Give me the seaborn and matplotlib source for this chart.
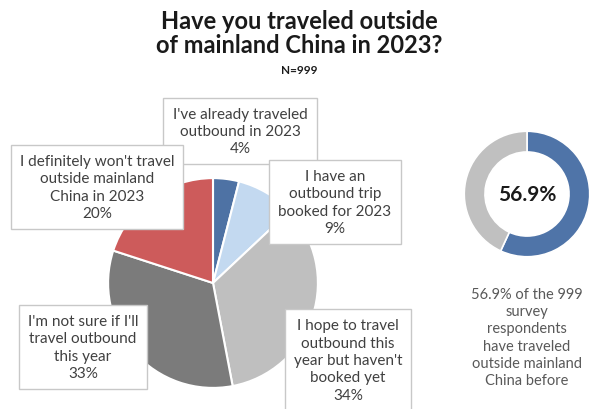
import matplotlib
matplotlib.use("Agg")
import matplotlib.pyplot as plt
import seaborn as sns

# -------------------------
# Data
# -------------------------
answers = [
    "I've already traveled\noutbound in 2023",
    "I have an\noutbound trip\nbooked for 2023",
    "I hope to travel\noutbound this\nyear but haven't\nbooked yet",
    "I'm not sure if I'll\ntravel outbound\nthis year",
    "I definitely won't travel\noutside mainland\nChina in 2023",
]
shares = [4, 9, 34, 33, 20]
slice_colors = ["#4E72A4", "#C3D9F0", "#BFBFBF", "#7B7B7B", "#CD5B5B"]

traveled_before = 56.9
donut_values = [traveled_before, 100 - traveled_before]
donut_colors = ["#4F74A8", "#C0C0C0"]
respondents = 999

# label box centres (pixels from top-left)
label_px = [(240, 132), (335, 203), (348, 361), (83, 348), (97, 188)]

sns.set_theme(style="white")
plt.rcParams["font.family"] = ["Lato", "DejaVu Sans"]

W, H = 599, 410
fig = plt.figure(figsize=(W / 100, H / 100), dpi=100)

# -------------------------
# Title
# -------------------------
fig.text(0.5, 0.975, "Have you traveled outside\nof mainland China in 2023?",
         ha="center", va="top", fontsize=17, fontweight="bold",
         color="#1A1A1A", linespacing=1.05)
fig.text(0.5, 1 - 70 / H, f"N={respondents}", ha="center", va="center",
         fontsize=8.5, fontweight="bold", color="#1A1A1A")

# -------------------------
# Main pie
# -------------------------
cx, cy, r = 213, 284, 107
ax = fig.add_axes([(cx - r) / W, (H - cy - r) / H, 2 * r / W, 2 * r / H])
ax.pie(shares, colors=slice_colors, startangle=90, counterclock=False,
       wedgeprops=dict(edgecolor="white", linewidth=1.5))
ax.set_xlim(-1.02, 1.02)
ax.set_ylim(-1.02, 1.02)
ax.set_aspect("equal")
ax.axis("off")

for txt, val, (x, y) in zip(answers, shares, label_px):
    fig.text(x / W, 1 - y / H, f"{txt}\n{val}%", ha="center", va="center",
             fontsize=11, color="#404040", linespacing=1.3,
             bbox=dict(boxstyle="square,pad=0.6", facecolor="white",
                       edgecolor="#C8C8C8", linewidth=1))

# -------------------------
# Donut
# -------------------------
dx, dy, dr = 527, 195, 64
ax2 = fig.add_axes([(dx - dr) / W, (H - dy - dr) / H, 2 * dr / W, 2 * dr / H])
ax2.pie(donut_values, colors=donut_colors, startangle=90, counterclock=False,
        wedgeprops=dict(width=0.33, edgecolor="white", linewidth=1.2))
ax2.set_xlim(-1.02, 1.02)
ax2.set_ylim(-1.02, 1.02)
ax2.set_aspect("equal")
ax2.axis("off")
ax2.text(0, 0, f"{traveled_before}%", ha="center", va="center",
         fontsize=15, fontweight="bold", color="#1A1A1A")

fig.text(dx / W, 1 - 338 / H,
         f"{traveled_before}% of the {respondents}\nsurvey\nrespondents\nhave traveled\noutside mainland\nChina before",
         ha="center", va="center", fontsize=10.5, color="#595959", linespacing=1.3)

fig.savefig("out.png", dpi=100)
